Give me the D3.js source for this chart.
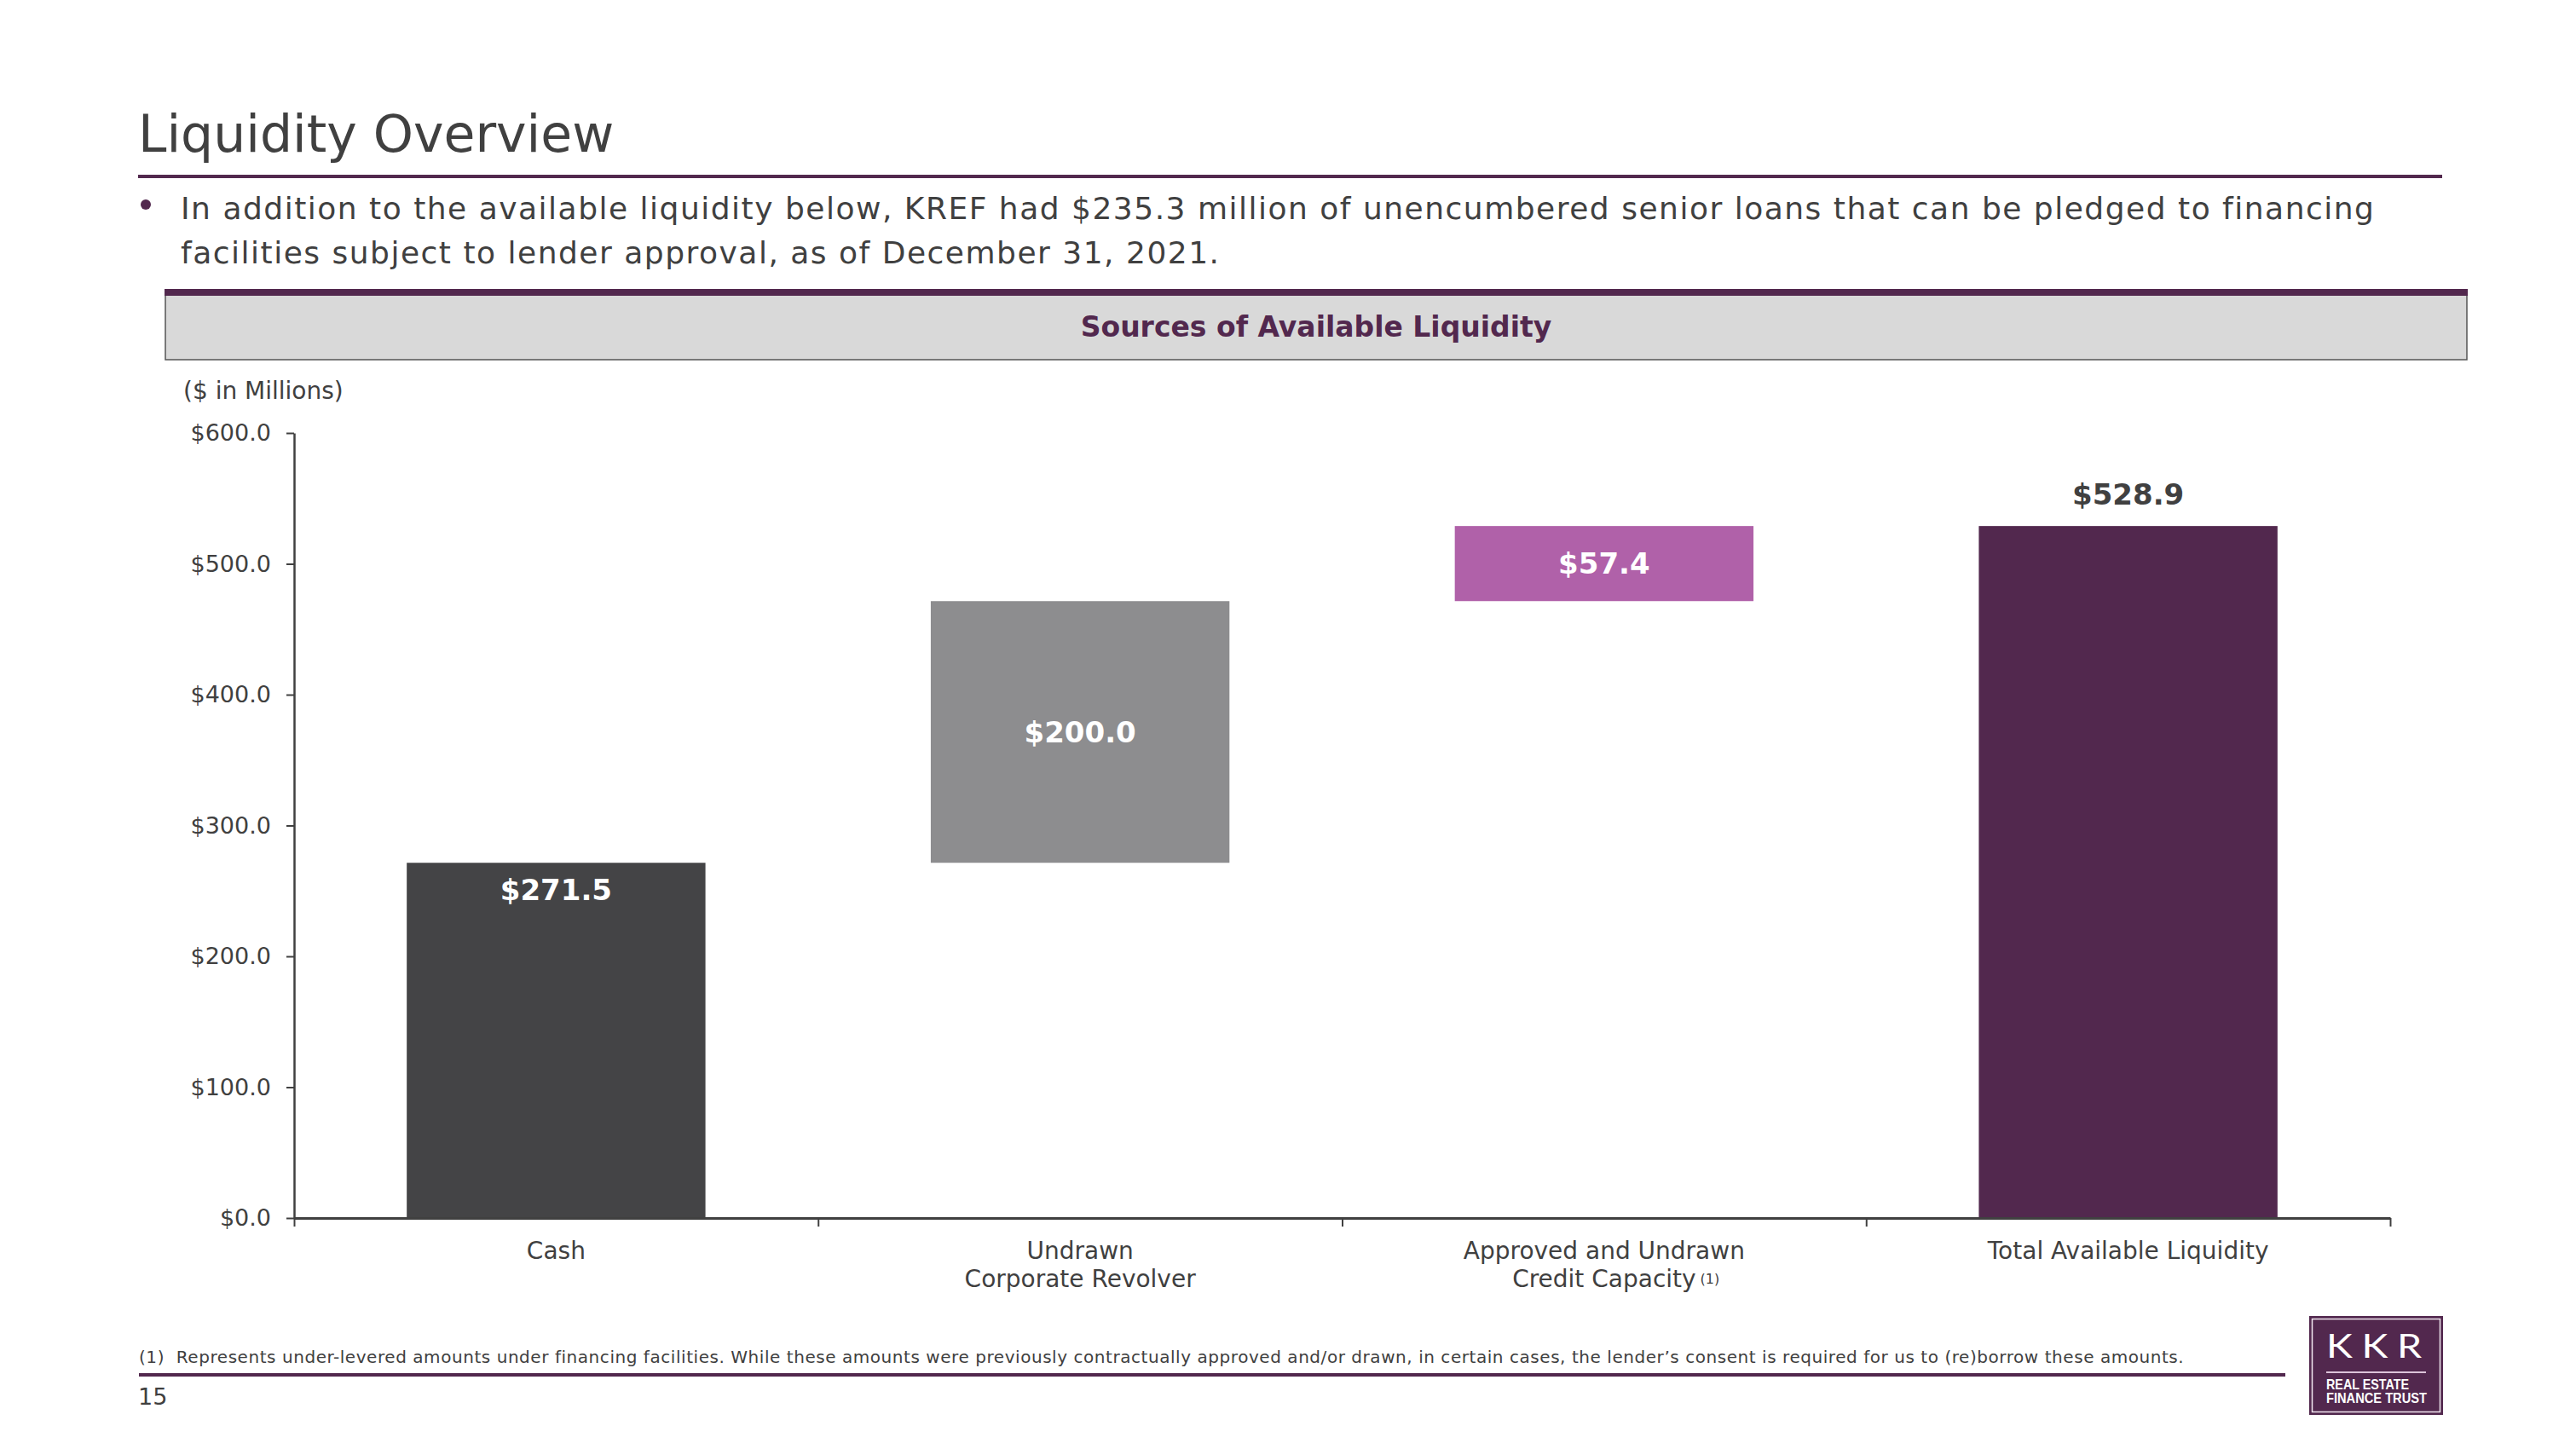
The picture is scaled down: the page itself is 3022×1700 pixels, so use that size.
<!DOCTYPE html>
<html>
<head>
<meta charset="utf-8">
<script src="https://cdn.jsdelivr.net/npm/d3@7"></script>
<style>
  body { margin: 0; background: #fff; }
  svg { display: block; font-family: "DejaVu Sans", Verdana, sans-serif; }
</style>
</head>
<body>
<svg id="chart" width="3022" height="1700"></svg>
<script>
  // chart data
  const categories = ["Cash", "Undrawn|Corporate Revolver", "Approved and Undrawn|Credit Capacity", "Total Available Liquidity"];
  const values = [271.5, 200.0, 57.4, 528.9];
  const isTotal = [false, false, false, true];
  const barColors = ["#444446", "#8d8d8f", "#b061a9", "#52284e"];
  const yTicks = [0, 100, 200, 300, 400, 500, 600];

  const purple = "#52284e";
  const textColor = "#404040";

  const svg = d3.select("#chart");

  // page title + rule
  svg.append("text").attr("x", 162).attr("y", 178)
    .attr("font-size", 60).attr("fill", textColor).text("Liquidity Overview");
  svg.append("rect").attr("x", 162).attr("y", 205).attr("width", 2703).attr("height", 4).attr("fill", purple);

  // bullet
  svg.append("circle").attr("cx", 171).attr("cy", 240).attr("r", 6).attr("fill", purple);
  const bullet = svg.append("text").attr("font-size", 36).attr("letter-spacing", 1.5).attr("fill", textColor);
  bullet.append("tspan").attr("x", 212).attr("y", 257)
    .text("In addition to the available liquidity below, KREF had $235.3 million of unencumbered senior loans that can be pledged to financing");
  bullet.append("tspan").attr("x", 212).attr("y", 309)
    .text("facilities subject to lender approval, as of December 31, 2021.");

  // section header box
  svg.append("rect").attr("x", 194).attr("y", 343).attr("width", 2700).attr("height", 79)
    .attr("fill", "#d9d9d9").attr("stroke", "#555").attr("stroke-width", 1.5);
  svg.append("rect").attr("x", 193).attr("y", 339).attr("width", 2702).attr("height", 8).attr("fill", purple);
  svg.append("text").attr("x", 1544).attr("y", 395).attr("text-anchor", "middle")
    .attr("font-size", 33).attr("font-weight", "bold").attr("fill", purple)
    .text("Sources of Available Liquidity");

  svg.append("text").attr("x", 215).attr("y", 468).attr("font-size", 28).attr("fill", textColor)
    .text("($ in Millions)");

  // scales
  const x0 = 345, x1 = 2804, yBottom = 1429, yTop = 508;
  const x = d3.scaleBand().domain(categories).range([x0, x1]).paddingInner(0.43).paddingOuter(0.215);
  const y = d3.scaleLinear().domain([0, 600]).range([yBottom, yTop]);

  // waterfall bases
  let running = 0;
  const bars = categories.map((c, i) => {
    const base = isTotal[i] ? 0 : running;
    if (!isTotal[i]) running += values[i];
    return { cat: c, value: values[i], base: base, top: base + values[i], color: barColors[i], i: i };
  });

  svg.selectAll("rect.bar").data(bars).join("rect").attr("class", "bar")
    .attr("x", d => x(d.cat)).attr("width", x.bandwidth())
    .attr("y", d => y(d.top)).attr("height", d => y(d.base) - y(d.top))
    .attr("fill", d => d.color);

  // value labels
  const fmt = v => "$" + d3.format(".1f")(v);
  svg.selectAll("text.val").data(bars).join("text").attr("class", "val")
    .attr("x", d => x(d.cat) + x.bandwidth() / 2)
    .attr("y", d => {
      if (d.i === 0) return y(d.top) + 44;
      if (isTotal[d.i]) return y(d.top) - 25;
      return (y(d.top) + y(d.base)) / 2 + 12;
    })
    .attr("text-anchor", "middle").attr("font-size", 34).attr("font-weight", "bold")
    .attr("fill", d => isTotal[d.i] ? textColor : "#fff")
    .text(d => fmt(d.value));

  // y axis
  const yAxis = svg.append("g").attr("transform", `translate(${x0},0)`)
    .call(d3.axisLeft(y).tickValues(yTicks).tickSize(9).tickSizeOuter(0).tickPadding(18).tickFormat(fmt));
  yAxis.selectAll("text").attr("font-size", 27).attr("fill", textColor).attr("font-family", "DejaVu Sans");
  yAxis.selectAll("line").attr("stroke", textColor).attr("stroke-width", 2);
  yAxis.select(".domain").attr("stroke", textColor).attr("stroke-width", 2.5);

  // x axis: boundary ticks
  const xb = d3.scaleLinear().domain([0, categories.length]).range([x0, x1]);
  const xAxis = svg.append("g").attr("transform", `translate(0,${yBottom})`)
    .call(d3.axisBottom(xb).tickValues(d3.range(categories.length + 1)).tickSize(10).tickSizeOuter(0).tickFormat(""));
  xAxis.selectAll("line").attr("stroke", textColor).attr("stroke-width", 2);
  xAxis.select(".domain").attr("stroke", textColor).attr("stroke-width", 3);

  // category labels
  categories.forEach(c => {
    const lines = c.split("|");
    const cx = x(c) + x.bandwidth() / 2;
    lines.forEach((ln, j) => {
      const t = svg.append("text").attr("x", cx).attr("y", 1477 + j * 33)
        .attr("text-anchor", "middle").attr("font-size", 28).attr("fill", textColor).text(ln);
      if (ln === "Credit Capacity") {
        const w = t.node().getComputedTextLength();
        svg.append("text").attr("x", cx + w / 2 + 5).attr("y", 1506)
          .attr("font-size", 16).attr("fill", textColor).text("(1)");
      }
    });
  });

  // footnote
  svg.append("text").attr("x", 163).attr("y", 1599).attr("font-size", 20).attr("letter-spacing", 0.55)
    .attr("fill", textColor).attr("xml:space", "preserve")
    .text("(1)  Represents under-levered amounts under financing facilities. While these amounts were previously contractually approved and/or drawn, in certain cases, the lender\u2019s consent is required for us to (re)borrow these amounts.");
  svg.append("rect").attr("x", 163).attr("y", 1611).attr("width", 2518).attr("height", 4).attr("fill", purple);
  svg.append("text").attr("x", 162).attr("y", 1648).attr("font-size", 27).attr("fill", textColor).text("15");

  // logo
  const logo = svg.append("g");
  logo.append("rect").attr("x", 2709).attr("y", 1544).attr("width", 157).attr("height", 116).attr("fill", purple);
  logo.append("rect").attr("x", 2712.5).attr("y", 1547.5).attr("width", 150).attr("height", 109)
    .attr("fill", "none").attr("stroke", "#f1e6f0").attr("stroke-width", 1.5);
  logo.append("text").attr("x", 2729).attr("y", 1593)
    .attr("font-size", 39).attr("fill", "#fff").attr("font-family", "Lato").attr("letter-spacing", 9)
    .attr("textLength", 123).attr("lengthAdjust", "spacingAndGlyphs").text("KKR");
  logo.append("rect").attr("x", 2729).attr("y", 1609).attr("width", 117).attr("height", 2).attr("fill", "#dcc3d9");
  logo.append("text").attr("x", 2729).attr("y", 1630).attr("font-size", 16.5).attr("font-weight", "bold")
    .attr("fill", "#fff").attr("font-family", "Liberation Sans")
    .attr("textLength", 97).attr("lengthAdjust", "spacingAndGlyphs").text("REAL ESTATE");
  logo.append("text").attr("x", 2729).attr("y", 1646).attr("font-size", 16.5).attr("font-weight", "bold")
    .attr("fill", "#fff").attr("font-family", "Liberation Sans")
    .attr("textLength", 118).attr("lengthAdjust", "spacingAndGlyphs").text("FINANCE TRUST");
</script>
</body>
</html>
